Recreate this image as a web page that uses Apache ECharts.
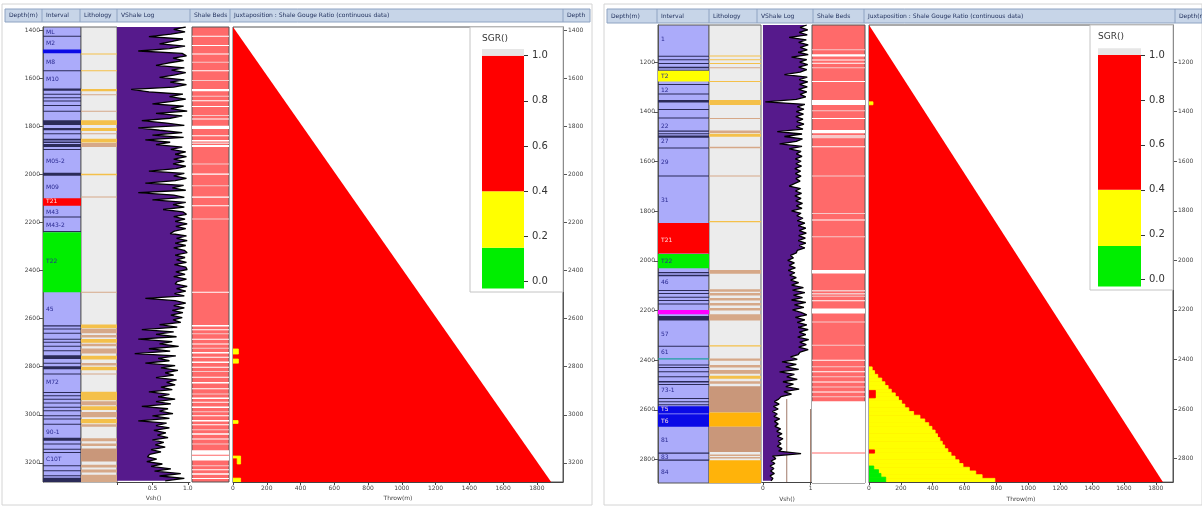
<!DOCTYPE html>
<html>
<head>
<meta charset="utf-8">
<script src="https://cdn.jsdelivr.net/npm/echarts@6/dist/echarts.min.js"></script>
<style>
  html, body { margin: 0; padding: 0; background: #fff; }
  #chart { width: 1202px; height: 507px; }
</style>
</head>
<body>
<div id="chart"></div>
<script>
// depth ranges and ticks
const LEFT_DEPTH = [1385, 3280]
const RIGHT_DEPTH = [1050, 2895]
const LEFT_DEPTH_TICKS = [1400, 1600, 1800, 2000, 2200, 2400, 2600, 2800, 3000, 3200]
const RIGHT_DEPTH_TICKS = [1200, 1400, 1600, 1800, 2000, 2200, 2400, 2600, 2800]
const THROW_TICKS = [0, 200, 400, 600, 800, 1000, 1200, 1400, 1600, 1800]
const SGR_TICKS = [0, 0.2, 0.4, 0.6, 0.8, 1.0]
// SGR colour classes [from, to, class]
const SGR_CLASSES = [[-0.03, 0.15, 'low'], [0.15, 0.4, 'mid'], [0.4, 1.0, 'high'], [1.0, 1.03, 'none']]

const LEFT_HEADER = ['Depth(m)', 'Interval', 'Lithology', 'VShale Log', 'Shale Beds', 'Juxtaposition : Shale Gouge Ratio (continuous data)', 'Depth']
const RIGHT_HEADER = ['Depth(m)', 'Interval', 'Lithology', 'VShale Log', 'Shale Beds', 'Juxtaposition : Shale Gouge Ratio (continuous data)', 'Depth(m']

// ---------- left well ----------
const LEFT_ZONES = [[1479, 1494, 'blue'], [2098, 2129, 'red'], [2240, 2490, 'green']]
const LEFT_MARKS = [
  [1421, 1425], [1565, 1569], [1641, 1650], [1663, 1667], [1678, 1682], [1691, 1695], [1710, 1714], [1734, 1738],
  [1773, 1793], [1806, 1815], [1828, 1832], [1850, 1858], [1862, 1868], [1872, 1885], [1893, 1897], [1992, 2004],
  [2174, 2178], [2235, 2239], [2627, 2632], [2641, 2645], [2658, 2662], [2683, 2687], [2696, 2700], [2713, 2717],
  [2731, 2735], [2752, 2768], [2783, 2787], [2798, 2810], [2828, 2832], [2905, 2909], [2919, 2923], [2933, 2937],
  [2949, 2953], [2967, 2971], [2981, 2985], [3002, 3006], [3016, 3020], [3037, 3041], [3096, 3108], [3120, 3124],
  [3141, 3145], [3155, 3159], [3210, 3214], [3231, 3235], [3252, 3256], [3262, 3280]
]
const LEFT_LABELS = [
  ['ML', 1407], ['M2', 1455], ['M8', 1532], ['M10', 1604], ['M05-2', 1946], ['M09', 2052], ['T21', 2112],
  ['M43', 2157], ['M43-2', 2212], ['T22', 2360], ['45', 2560], ['M72', 2865], ['90-1', 3073], ['C10T', 3184]
]
const LEFT_LITHO = [
  [1495, 1500, 'sand'], [1565, 1569, 'sand'], [1643, 1653, 'sand'], [1665, 1668, 'silt'], [1734, 1737, 'silt'],
  [1773, 1793, 'sand'], [1806, 1818, 'sand'], [1828, 1832, 'silt'], [1850, 1866, 'sand'], [1868, 1885, 'silt'],
  [1996, 2002, 'sand'], [2091, 2095, 'silt'], [2488, 2492, 'silt'], [2624, 2640, 'sand'], [2642, 2660, 'silt'],
  [2668, 2678, 'silt'], [2684, 2700, 'sand'], [2704, 2715, 'silt'], [2724, 2745, 'silt'], [2754, 2770, 'sand'],
  [2784, 2795, 'silt'], [2800, 2815, 'sand'], [2828, 2832, 'silt'], [2904, 2940, 'sand'], [2944, 2960, 'silt'],
  [2964, 2980, 'sand'], [2988, 3010, 'silt'], [3018, 3035, 'sand'], [3040, 3050, 'silt'], [3098, 3110, 'silt'],
  [3120, 3130, 'silt'], [3140, 3195, 'clay'], [3208, 3220, 'silt'], [3228, 3240, 'silt'], [3250, 3280, 'silt']
]
const LEFT_SHALE = [
  [1421, 1425, 'white'], [1460, 1464, 'white'], [1495, 1500, 'white'], [1530, 1534, 'pale'], [1565, 1569, 'white'],
  [1606, 1610, 'pale'], [1643, 1653, 'white'], [1671, 1675, 'pale'], [1690, 1694, 'white'], [1714, 1718, 'white'],
  [1752, 1756, 'pale'], [1766, 1770, 'white'], [1796, 1810, 'white'], [1836, 1840, 'white'], [1856, 1862, 'white'],
  [1866, 1872, 'pale'], [1876, 1885, 'white'], [1953, 1957, 'pale'], [1995, 2000, 'white'], [2044, 2048, 'pale'],
  [2091, 2096, 'white'], [2127, 2131, 'white'], [2183, 2187, 'pale'], [2488, 2492, 'white'], [2626, 2632, 'white'],
  [2644, 2648, 'white'], [2661, 2665, 'pale'], [2683, 2688, 'white'], [2703, 2707, 'white'], [2721, 2725, 'pale'],
  [2739, 2745, 'white'], [2758, 2762, 'white'], [2778, 2784, 'white'], [2800, 2804, 'white'], [2818, 2822, 'pale'],
  [2842, 2846, 'white'], [2864, 2870, 'white'], [2890, 2894, 'white'], [2911, 2915, 'pale'], [2928, 2934, 'white'],
  [2946, 2950, 'white'], [2966, 2972, 'white'], [2985, 2989, 'pale'], [3002, 3006, 'white'], [3022, 3028, 'white'],
  [3040, 3044, 'white'], [3060, 3064, 'pale'], [3077, 3083, 'white'], [3099, 3103, 'white'], [3120, 3124, 'pale'],
  [3148, 3190, 'white'], [3166, 3170, 'bed'], [3210, 3214, 'pale'], [3227, 3231, 'white'], [3244, 3250, 'white'],
  [3263, 3267, 'white']
]
// [depth, vshale]
const LEFT_VSH = [
  [1385, .97], [1395, .80], [1405, .96], [1415, .76], [1425, .45], [1435, .93], [1445, .78], [1455, .60], [1465, .96], [1475, .74],
  [1485, .30], [1495, .92], [1505, .98], [1515, .79], [1525, .94], [1535, .72], [1545, .55], [1555, .95], [1565, .77], [1575, .97],
  [1585, .80], [1595, .60], [1605, .95], [1615, .75], [1625, .98], [1635, .80], [1645, .20], [1655, .45], [1665, .93], [1675, .74],
  [1685, .97], [1695, .78], [1705, .50], [1715, .94], [1725, .76], [1735, .99], [1745, .55], [1755, .92], [1765, .75], [1775, .35],
  [1785, .70], [1795, .95], [1805, .30], [1815, .60], [1825, .92], [1835, .50], [1845, .94], [1855, .40], [1865, .75], [1875, .55],
  [1885, .92], [1895, .76], [1905, .97], [1915, .82], [1925, .98], [1935, .80], [1945, .95], [1955, .79], [1965, .97], [1975, .83],
  [1985, .45], [1995, .95], [2005, .80], [2015, .98], [2025, .82], [2035, .40], [2045, .94], [2055, .78], [2065, .97], [2075, .30],
  [2085, .80], [2095, .95], [2105, .50], [2115, .97], [2125, .79], [2135, .95], [2145, .65], [2155, .93], [2165, .98], [2175, .80],
  [2185, .96], [2195, .82], [2205, .99], [2215, .83], [2225, .97], [2235, .81], [2245, .75], [2255, .98], [2265, .84], [2275, .99],
  [2285, .82], [2295, .97], [2305, .80], [2315, .95], [2325, .99], [2335, .82], [2345, .96], [2355, .84], [2365, .98], [2375, .81],
  [2385, .97], [2395, .99], [2405, .83], [2415, .96], [2425, .80], [2435, .98], [2445, .85], [2455, .82], [2465, .99], [2475, .84],
  [2485, .97], [2495, .81], [2505, .95], [2515, .40], [2525, .82], [2535, .97], [2545, .80], [2555, .95], [2565, .78], [2575, .93],
  [2585, .76], [2595, .92], [2605, .79], [2615, .90], [2625, .60], [2635, .85], [2645, .35], [2655, .80], [2665, .55], [2675, .84],
  [2685, .30], [2695, .78], [2705, .60], [2715, .87], [2725, .45], [2735, .75], [2745, .25], [2755, .83], [2765, .58], [2775, .74],
  [2785, .40], [2795, .82], [2805, .62], [2815, .86], [2825, .68], [2835, .80], [2845, .55], [2855, .84], [2865, .70], [2875, .82],
  [2885, .62], [2895, .78], [2905, .45], [2915, .74], [2925, .58], [2935, .82], [2945, .55], [2955, .76], [2965, .35], [2975, .72],
  [2985, .60], [2995, .79], [3005, .50], [3015, .74], [3025, .30], [3035, .70], [3045, .55], [3055, .74], [3065, .52], [3075, .69],
  [3085, .57], [3095, .72], [3105, .50], [3115, .66], [3125, .54], [3135, .68], [3145, .48], [3155, .62], [3165, .46], [3175, .43],
  [3185, .56], [3195, .42], [3205, .64], [3215, .48], [3225, .76], [3235, .53], [3245, .90], [3255, .60], [3265, .95], [3275, .68]
]
// juxtaposition domain [throw, depth] and SGR cells [depthTop, depthBottom, throwFrom, throwTo, class]
const LEFT_TRIANGLE = [[0, 1385], [0, 3280], [1885, 3280]]
const LEFT_SGR_CELLS = [
  [2726, 2747, 0, 32, 'mid'], [2768, 2785, 0, 32, 'mid'], [3024, 3036, 0, 30, 'mid'],
  [3172, 3180, 0, 45, 'mid'], [3180, 3205, 25, 45, 'mid'], [3264, 3280, 0, 45, 'mid']
]

// ---------- right well ----------
const RIGHT_ZONES = [
  [1234, 1278, 'yellow'], [1848, 1970, 'red'], [1972, 2030, 'green'], [2198, 2215, 'magenta'],
  [2392, 2397, 'teal'], [2586, 2615, 'blue'], [2618, 2668, 'blue']
]
const RIGHT_MARKS = [
  [1174, 1177], [1188, 1191], [1203, 1206], [1218, 1224], [1230, 1233], [1288, 1292], [1326, 1329], [1352, 1362],
  [1388, 1392], [1423, 1427], [1475, 1480], [1486, 1490], [1495, 1504], [1543, 1547], [1656, 1660], [2045, 2050],
  [2056, 2062], [2118, 2121], [2130, 2133], [2145, 2148], [2158, 2161], [2172, 2176], [2222, 2240], [2342, 2346],
  [2418, 2422], [2428, 2432], [2445, 2449], [2465, 2469], [2484, 2490], [2496, 2500], [2553, 2557], [2566, 2570],
  [2578, 2582], [2772, 2777], [2800, 2805]
]
const RIGHT_LABELS = [
  ['1', 1110], ['T2', 1257], ['12', 1312], ['22', 1458], ['27', 1520], ['29', 1603], ['31', 1755], ['T21', 1916],
  ['T22', 2004], ['46', 2089], ['57', 2295], ['61', 2371], ['73-1', 2521], ['T5', 2599], ['T6', 2645], ['81', 2723],
  ['83', 2793], ['84', 2851]
]
const RIGHT_LITHO = [
  [1173, 1177, 'sand'], [1188, 1192, 'sand'], [1203, 1206, 'sand'], [1220, 1224, 'silt'], [1276, 1280, 'sand'],
  [1352, 1372, 'sand'], [1425, 1429, 'silt'], [1475, 1485, 'silt'], [1488, 1500, 'sand'], [1540, 1546, 'silt'],
  [1656, 1660, 'silt'], [1840, 1845, 'sand'], [2037, 2052, 'silt'], [2115, 2125, 'silt'], [2130, 2140, 'silt'],
  [2150, 2160, 'silt'], [2170, 2180, 'silt'], [2190, 2200, 'silt'], [2215, 2240, 'silt'], [2340, 2345, 'sand'],
  [2393, 2403, 'silt'], [2420, 2430, 'silt'], [2440, 2455, 'silt'], [2463, 2475, 'sand'], [2485, 2495, 'silt'],
  [2505, 2611, 'clay'], [2611, 2668, 'cgl'], [2668, 2770, 'clay'], [2780, 2786, 'silt'], [2790, 2796, 'silt'],
  [2803, 2895, 'cgl']
]
const RIGHT_SHALE = [
  [1148, 1152, 'pale'], [1168, 1177, 'white'], [1189, 1193, 'white'], [1202, 1206, 'white'], [1220, 1224, 'pale'],
  [1276, 1280, 'white'], [1352, 1372, 'white'], [1393, 1397, 'pale'], [1425, 1429, 'white'], [1473, 1486, 'white'],
  [1493, 1506, 'pale'], [1538, 1542, 'white'], [1656, 1660, 'pale'], [1807, 1811, 'pale'], [1834, 1838, 'white'],
  [1901, 1905, 'pale'], [2037, 2051, 'white'], [2118, 2124, 'pale'], [2130, 2136, 'pale'], [2141, 2145, 'pale'],
  [2159, 2163, 'white'], [2192, 2212, 'white'], [2244, 2248, 'pale'], [2338, 2342, 'pale'], [2398, 2402, 'white'],
  [2425, 2429, 'pale'], [2445, 2449, 'white'], [2465, 2469, 'pale'], [2486, 2490, 'white'], [2506, 2510, 'pale'],
  [2526, 2530, 'white'], [2546, 2550, 'pale'], [2566, 2895, 'white'], [2772, 2776, 'bed']
]
const RIGHT_VSH = [
  [1050, .92], [1060, .78], [1070, .94], [1080, .76], [1090, .93], [1100, .55], [1110, .91], [1120, .75], [1130, .95], [1140, .78],
  [1150, .93], [1160, .74], [1170, .95], [1180, .60], [1190, .92], [1200, .77], [1210, .94], [1220, .75], [1230, .92], [1240, .78],
  [1250, .45], [1260, .93], [1270, .76], [1280, .94], [1290, .77], [1300, .93], [1310, .75], [1320, .92], [1330, .78], [1340, .90],
  [1350, .70], [1360, .05], [1370, .88], [1380, .72], [1390, .86], [1400, .70], [1410, .85], [1420, .69], [1430, .84], [1440, .71],
  [1450, .86], [1460, .70], [1470, .84], [1480, .30], [1490, .82], [1500, .45], [1510, .83], [1520, .70], [1530, .35], [1540, .82],
  [1550, .55], [1560, .80], [1570, .70], [1580, .82], [1590, .68], [1600, .80], [1610, .69], [1620, .81], [1630, .67], [1640, .79],
  [1650, .68], [1660, .80], [1670, .69], [1680, .78], [1690, .66], [1700, .55], [1710, .79], [1720, .68], [1730, .81], [1740, .67],
  [1750, .80], [1760, .69], [1770, .83], [1780, .70], [1790, .82], [1800, .60], [1810, .80], [1820, .71], [1830, .84], [1840, .72],
  [1850, .88], [1860, .74], [1870, .90], [1880, .76], [1890, .91], [1900, .75], [1910, .89], [1920, .74], [1930, .90], [1940, .76],
  [1950, .88], [1960, .72], [1970, .70], [1980, .58], [1990, .64], [2000, .52], [2010, .66], [2020, .55], [2030, .68], [2040, .53],
  [2050, .67], [2060, .56], [2070, .70], [2080, .58], [2090, .75], [2100, .60], [2110, .85], [2120, .62], [2130, .88], [2140, .64],
  [2150, .83], [2160, .60], [2170, .90], [2180, .66], [2190, .86], [2200, .62], [2210, .80], [2220, .92], [2230, .68], [2240, .88],
  [2250, .72], [2260, .92], [2270, .74], [2280, .95], [2290, .76], [2300, .90], [2310, .73], [2320, .96], [2330, .77], [2340, .91],
  [2350, .75], [2360, .95], [2370, .78], [2380, .74], [2390, .58], [2400, .72], [2410, .40], [2420, .70], [2430, .48], [2440, .75],
  [2450, .35], [2460, .66], [2470, .50], [2480, .72], [2490, .42], [2500, .64], [2510, .48], [2520, .76], [2530, .44], [2540, .60],
  [2550, .38], [2560, .33], [2570, .24], [2580, .34], [2590, .22], [2600, .32], [2610, .20], [2620, .30], [2630, .23], [2640, .35],
  [2650, .24], [2660, .32], [2670, .25], [2680, .37], [2690, .29], [2700, .40], [2710, .30], [2720, .42], [2730, .32], [2740, .38],
  [2750, .30], [2760, .40], [2770, .33], [2780, .80], [2790, .20], [2800, .27], [2810, .17], [2820, .25], [2830, .15], [2840, .23],
  [2850, .16], [2860, .24], [2870, .15], [2880, .21], [2890, .17]
]
// reference lines on the vshale track [value, from depth]
const RIGHT_VSH_REFS = [[0.5, 2560], [1.0, 2600]]
const RIGHT_TRIANGLE = [[0, 1050], [0, 2895], [1845, 2895]]
const RIGHT_SGR_CELLS = [
  [1360, 1372, 0, 25, 'mid'],
  [2430, 2445, 0, 20, 'mid'], [2445, 2460, 0, 35, 'mid'], [2460, 2475, 0, 55, 'mid'], [2475, 2490, 0, 80, 'mid'],
  [2490, 2505, 0, 100, 'mid'], [2505, 2520, 0, 120, 'mid'], [2520, 2535, 0, 140, 'mid'], [2535, 2550, 0, 165, 'mid'],
  [2550, 2565, 0, 185, 'mid'], [2565, 2580, 0, 205, 'mid'], [2580, 2595, 0, 225, 'mid'], [2595, 2610, 0, 250, 'mid'],
  [2610, 2625, 0, 280, 'mid'], [2625, 2640, 0, 320, 'mid'], [2640, 2655, 0, 350, 'mid'], [2655, 2670, 0, 375, 'mid'],
  [2670, 2685, 0, 395, 'mid'], [2685, 2700, 0, 415, 'mid'], [2700, 2715, 0, 430, 'mid'], [2715, 2730, 0, 445, 'mid'],
  [2730, 2745, 0, 460, 'mid'], [2745, 2760, 0, 475, 'mid'], [2760, 2775, 0, 495, 'mid'], [2775, 2790, 0, 515, 'mid'],
  [2790, 2805, 0, 540, 'mid'], [2805, 2820, 0, 565, 'mid'], [2820, 2835, 0, 590, 'mid'], [2835, 2850, 0, 630, 'mid'],
  [2850, 2865, 0, 670, 'mid'], [2865, 2880, 0, 710, 'mid'], [2880, 2895, 0, 790, 'mid'],
  [2525, 2555, 0, 40, 'high'], [2765, 2778, 0, 35, 'high'],
  [2830, 2845, 0, 30, 'low'], [2845, 2860, 0, 60, 'low'], [2860, 2875, 0, 75, 'low'], [2875, 2895, 0, 105, 'low']
]

// ---------- styling ----------
const ZONE_COLORS = { blue: '#0a0ae6', red: '#ff0000', green: '#00ee00', yellow: '#ffff00', magenta: '#ff00ff', teal: '#20a0a0' }
const LITHO_COLORS = { sand: '#f4c04a', silt: '#d6a888', clay: '#c9977a', cgl: '#ffb30a' }
const SHALE_COLORS = { white: '#ffffff', pale: '#f6c9c9', bed: '#ff6a6a' }
const SGR_COLORS = { low: '#00ee00', mid: '#ffff00', high: '#ff0000', none: '#e6e6e6' }
const FONT = 'DejaVu Sans'

const PANELS = [
  {
    depth: LEFT_DEPTH, ticks: LEFT_DEPTH_TICKS, top: 27, height: 455,
    cols: { interval: [43, 38], litho: [81, 36], vsh: [117, 73], shale: [192, 37], juxt: [233, 330] },
    vshRange: [0, 1.03], vshTicks: [0, 0.5, 1.0], vshLabels: [0.5, 1.0], vshFmt: v => v.toFixed(1),
    throwMax: 1955,
    legendBox: [470, 27, 93, 265], legendBar: [482, 55.7, 42, 226],
    header: { y: 9, h: 13, edges: [5, 42, 80, 117, 190, 230, 563, 590], titles: LEFT_HEADER },
    frame: [2, 4, 590, 501],
    zones: LEFT_ZONES, marks: LEFT_MARKS, labels: LEFT_LABELS, litho: LEFT_LITHO, shale: LEFT_SHALE,
    vsh: LEFT_VSH, refs: [], tri: LEFT_TRIANGLE, cells: LEFT_SGR_CELLS
  },
  {
    depth: RIGHT_DEPTH, ticks: RIGHT_DEPTH_TICKS, top: 25, height: 458,
    cols: { interval: [658, 51], litho: [709, 52], vsh: [762, 50], shale: [812, 53], juxt: [869, 304] },
    vshRange: [-0.02, 1.03], vshTicks: [0, 1], vshLabels: [0, 1], vshFmt: v => String(v),
    throwMax: 1908,
    legendBox: [1090, 25, 83, 265], legendBar: [1098, 55, 43, 224.7],
    header: { y: 9, h: 14, edges: [607, 657, 709, 757, 813, 864, 1175, 1202], titles: RIGHT_HEADER },
    frame: [604, 4, 598, 501],
    zones: RIGHT_ZONES, marks: RIGHT_MARKS, labels: RIGHT_LABELS, litho: RIGHT_LITHO, shale: RIGHT_SHALE,
    vsh: RIGHT_VSH, refs: RIGHT_VSH_REFS, tri: RIGHT_TRIANGLE, cells: RIGHT_SGR_CELLS
  }
]

const grid = [], xAxis = [], yAxis = [], series = [], graphic = []

function addGrid(g, xa, ya) {
  const idx = grid.length
  grid.push(Object.assign({ show: true, borderColor: '#666', borderWidth: 1, backgroundColor: 'transparent' }, g))
  xAxis.push(Object.assign({ gridIndex: idx, type: 'value', min: 0, max: 1, show: false, splitLine: { show: false } }, xa))
  yAxis.push(Object.assign({ gridIndex: idx, type: 'value', inverse: true, show: false, splitLine: { show: false } }, ya))
  return idx
}

// horizontal bands across a whole track
function bandSeries(idx, bands, colorOf) {
  return {
    type: 'custom', xAxisIndex: idx, yAxisIndex: idx, clip: true, silent: true, animation: false,
    data: bands.map(b => [0, b[0]]),
    renderItem(params, api) {
      const b = bands[params.dataIndex]
      const p0 = api.coord([0, b[0]])
      const p1 = api.coord([1, b[1]])
      return {
        type: 'rect',
        shape: { x: p0[0], y: p0[1], width: p1[0] - p0[0], height: Math.max(1, p1[1] - p0[1]) },
        style: { fill: colorOf(b[2]) }
      }
    }
  }
}

const axisText = { fontSize: 6, color: '#444', fontFamily: FONT }
const plain = v => String(v)

PANELS.forEach(p => {
  const [dTop, dBot] = p.depth
  const base = { top: p.top, height: p.height }
  const depthAxis = { min: dTop, max: dBot }

  // frame and header
  graphic.push({ type: 'rect', shape: { x: p.frame[0], y: p.frame[1], width: p.frame[2], height: p.frame[3] }, style: { fill: 'none', stroke: '#d4d4d4', lineWidth: 1 }, z: -1 })
  const h = p.header
  graphic.push({ type: 'rect', shape: { x: h.edges[0], y: h.y, width: h.edges[h.edges.length - 1] - h.edges[0], height: h.h }, style: { fill: '#c7d5e8', stroke: '#8ea3c2', lineWidth: 1 } })
  h.titles.forEach((t, i) => {
    if (i > 0) graphic.push({ type: 'line', shape: { x1: h.edges[i], y1: h.y, x2: h.edges[i], y2: h.y + h.h }, style: { stroke: '#8ea3c2', lineWidth: 1 } })
    graphic.push({ type: 'text', x: h.edges[i] + 4, y: h.y + h.h / 2, style: { text: t, font: '6px ' + FONT, fill: '#1e2d5a', verticalAlign: 'middle' } })
  })

  // interval track, carries the left depth axis
  const gi = addGrid(
    Object.assign({ left: p.cols.interval[0], width: p.cols.interval[1], backgroundColor: '#ababfa', borderColor: '#555' }, base),
    {},
    Object.assign({
      show: true, position: 'left',
      axisLine: { show: true, onZero: false, lineStyle: { color: '#555' } },
      axisTick: { show: true, length: 4, customValues: p.ticks, lineStyle: { color: '#555' } },
      axisLabel: Object.assign({ customValues: p.ticks, formatter: plain, margin: 3 }, axisText)
    }, depthAxis)
  )
  series.push(bandSeries(gi, p.marks.map(m => [m[0], m[1], 'mark']), () => '#2b2b58'))
  series.push(bandSeries(gi, p.zones, k => ZONE_COLORS[k]))
  series.push({
    type: 'custom', xAxisIndex: gi, yAxisIndex: gi, clip: true, silent: true, animation: false,
    data: p.labels.map(l => [0, l[1]]),
    renderItem(params, api) {
      const l = p.labels[params.dataIndex]
      const pt = api.coord([0, l[1]])
      const zone = p.zones.find(z => l[1] >= z[0] && l[1] <= z[1])
      const light = zone && (zone[2] === 'red' || zone[2] === 'blue')
      return { type: 'text', x: pt[0] + 3, y: pt[1], style: { text: l[0], font: '6px ' + FONT, fill: light ? '#ffe0e0' : '#2a2a90', verticalAlign: 'middle' } }
    }
  })

  // lithology track
  const gl = addGrid(Object.assign({ left: p.cols.litho[0], width: p.cols.litho[1], backgroundColor: '#ececec', borderColor: '#666' }, base), {}, depthAxis)
  series.push(bandSeries(gl, p.litho, k => LITHO_COLORS[k]))

  // vshale track
  const gv = addGrid(
    Object.assign({ left: p.cols.vsh[0], width: p.cols.vsh[1], show: false }, base),
    {
      show: true, min: p.vshRange[0], max: p.vshRange[1], position: 'bottom',
      name: 'Vsh()', nameLocation: 'middle', nameGap: 13, nameTextStyle: axisText,
      axisLine: { show: true, onZero: false, lineStyle: { color: '#444' } },
      axisTick: { show: true, length: 3, customValues: p.vshTicks, lineStyle: { color: '#444' } },
      axisLabel: Object.assign({ customValues: p.vshLabels, formatter: p.vshFmt, margin: 3 }, axisText)
    },
    depthAxis
  )
  series.push({
    type: 'custom', xAxisIndex: gv, yAxisIndex: gv, clip: true, silent: true, animation: false,
    data: p.refs.map(r => [r[0], r[1]]),
    renderItem(params, api) {
      const r = p.refs[params.dataIndex]
      const a = api.coord([r[0], r[1]]), b = api.coord([r[0], dBot])
      return { type: 'line', shape: { x1: a[0], y1: a[1], x2: b[0], y2: b[1] }, style: { stroke: '#a07a6a', lineWidth: 1 } }
    }
  })
  series.push({
    type: 'custom', xAxisIndex: gv, yAxisIndex: gv, clip: true, silent: true, animation: false,
    data: [[0, dTop]],
    renderItem(params, api) {
      const s = p.vsh
      const pts = [api.coord([0, s[0][0]])]
        .concat(s.map(d => api.coord([d[1], d[0]])))
        .concat([api.coord([0, s[s.length - 1][0]]), api.coord([0, dBot])])
      return { type: 'polygon', shape: { points: pts }, style: { fill: '#561a8c' } }
    }
  })
  series.push({
    type: 'line', xAxisIndex: gv, yAxisIndex: gv, symbol: 'none', silent: true, animation: false,
    data: p.vsh.map(d => [d[1], d[0]]),
    lineStyle: { color: '#000', width: 1.3 }
  })

  // shale beds track
  const gs = addGrid(Object.assign({ left: p.cols.shale[0], width: p.cols.shale[1], backgroundColor: '#ff6a6a', borderColor: '#555' }, base), {}, depthAxis)
  series.push(bandSeries(gs, p.shale, k => SHALE_COLORS[k]))

  // juxtaposition plot, carries the right depth axis and the throw axis
  const gj = addGrid(
    Object.assign({ left: p.cols.juxt[0], width: p.cols.juxt[1], borderColor: '#555' }, base),
    {
      show: true, min: 0, max: p.throwMax, position: 'bottom',
      name: 'Throw(m)', nameLocation: 'middle', nameGap: 13, nameTextStyle: axisText,
      axisLine: { show: true, onZero: false, lineStyle: { color: '#444' } },
      axisTick: { show: true, length: 3, customValues: THROW_TICKS, lineStyle: { color: '#444' } },
      axisLabel: Object.assign({ customValues: THROW_TICKS, formatter: plain, margin: 3 }, axisText)
    },
    Object.assign({
      show: true, position: 'right',
      axisLine: { show: true, onZero: false, lineStyle: { color: '#555' } },
      axisTick: { show: true, length: 4, customValues: p.ticks, lineStyle: { color: '#555' } },
      axisLabel: Object.assign({ customValues: p.ticks, formatter: plain, margin: 5 }, axisText)
    }, depthAxis)
  )
  series.push({
    type: 'custom', xAxisIndex: gj, yAxisIndex: gj, clip: true, silent: true, animation: false,
    data: [p.tri[0]],
    renderItem(params, api) {
      return { type: 'polygon', shape: { points: p.tri.map(v => api.coord(v)) }, style: { fill: SGR_COLORS.high } }
    }
  })
  series.push({
    type: 'custom', xAxisIndex: gj, yAxisIndex: gj, clip: true, silent: true, animation: false,
    data: p.cells.map(c => [c[2], c[0]]),
    renderItem(params, api) {
      const c = p.cells[params.dataIndex]
      const a = api.coord([c[2], c[0]]), b = api.coord([c[3], c[1]])
      const col = SGR_COLORS[c[4]]
      return { type: 'rect', shape: { x: a[0], y: a[1], width: b[0] - a[0], height: b[1] - a[1] }, style: { fill: col, stroke: col, lineWidth: 0.8 } }
    }
  })

  // SGR colour legend
  const lb = p.legendBox
  graphic.push({ type: 'rect', shape: { x: lb[0], y: lb[1], width: lb[2], height: lb[3] }, style: { fill: '#fff', stroke: '#c4c4c4', lineWidth: 1 }, z: 1 })
  graphic.push({ type: 'text', x: p.legendBar[0], y: lb[1] + 12, style: { text: 'SGR()', font: '9px ' + FONT, fill: '#333', verticalAlign: 'middle' }, z: 2 })
  const gg = addGrid(
    { left: p.legendBar[0], top: p.legendBar[1], width: p.legendBar[2], height: p.legendBar[3], show: false, z: 3 },
    {},
    {
      show: true, inverse: false, min: 0, max: 1, position: 'right', z: 10,
      axisLine: { show: false, onZero: false },
      axisTick: { show: true, length: 4, customValues: SGR_TICKS, lineStyle: { color: '#333' } },
      axisLabel: { customValues: SGR_TICKS, formatter: v => v.toFixed(1), fontSize: 10, color: '#333', fontFamily: FONT, margin: 8 }
    }
  )
  series.push({
    type: 'custom', xAxisIndex: gg, yAxisIndex: gg, clip: false, silent: true, animation: false, z: 5,
    data: SGR_CLASSES.map(c => [0, c[0]]),
    renderItem(params, api) {
      const c = SGR_CLASSES[params.dataIndex]
      const a = api.coord([0, c[1]]), b = api.coord([1, c[0]])
      return { type: 'rect', shape: { x: a[0], y: a[1], width: b[0] - a[0], height: b[1] - a[1] }, style: { fill: SGR_COLORS[c[2]] } }
    }
  })
})

const chart = echarts.init(document.getElementById('chart'), null, { renderer: 'canvas' })
chart.setOption({
  animation: false,
  backgroundColor: '#fff',
  textStyle: { fontFamily: FONT },
  grid, xAxis, yAxis, series, graphic
})
</script>
</body>
</html>
